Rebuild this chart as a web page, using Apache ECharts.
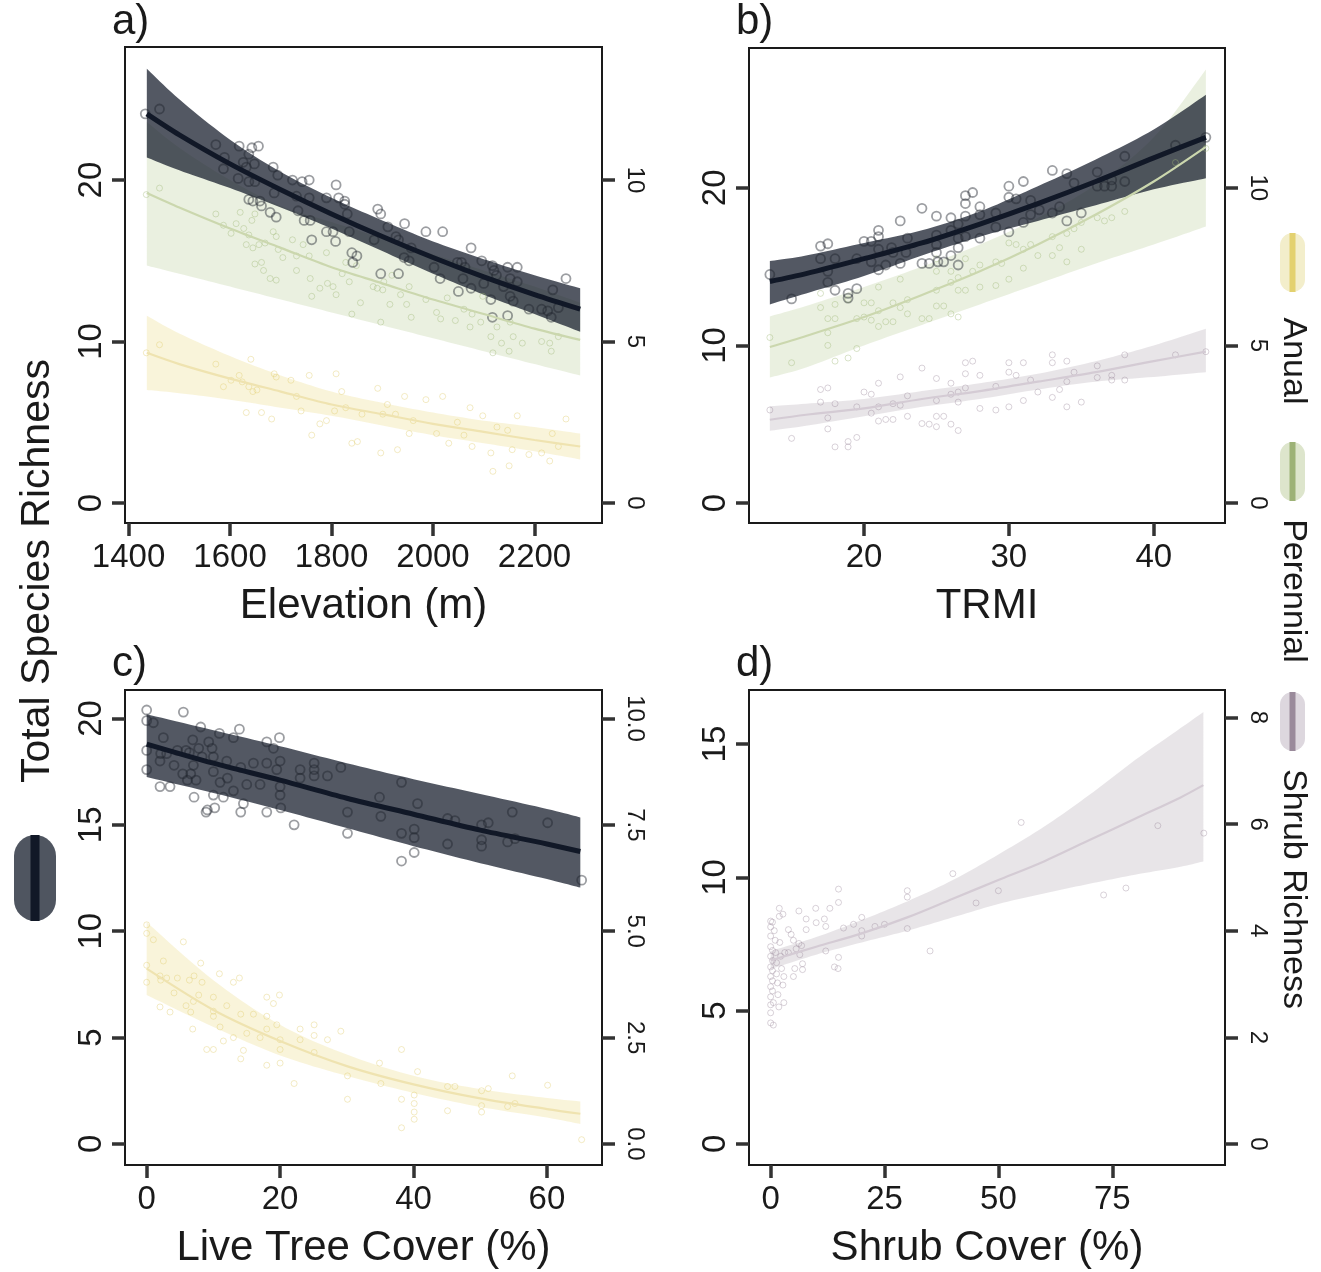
<!DOCTYPE html>
<html><head><meta charset="utf-8">
<script src="https://cdn.jsdelivr.net/npm/echarts@6/dist/echarts.min.js"></script>
<style>html,body{margin:0;padding:0;background:#fff}#c{width:1321px;height:1272px}</style>
</head><body><div id="c"></div>
<script>
// ---------- Panel a: Elevation ----------
const elevTicks = [1400, 1600, 1800, 2000, 2200];
const elevFitX = [1436, 1500, 1600, 1700, 1800, 1900, 2000, 2100, 2200, 2290];
const elevTotalFit = [24.1, 22.8, 21.0, 19.4, 17.9, 16.5, 15.2, 14.0, 12.9, 12.0];
const elevTotalHi  = [26.9, 25.0, 22.5, 20.5, 18.9, 17.5, 16.2, 15.1, 14.1, 13.3];
const elevTotalLo  = [21.4, 20.6, 19.5, 18.3, 17.0, 15.6, 14.2, 12.9, 11.7, 10.6];
const elevPerFit = [9.6, 9.15, 8.5, 7.9, 7.3, 6.8, 6.3, 5.85, 5.4, 5.05];
const elevPerHi  = [11.8, 11.0, 10.0, 9.2, 8.7, 8.2, 7.7, 7.2, 6.7, 6.2];
const elevPerLo  = [7.35, 7.1, 6.7, 6.3, 5.9, 5.5, 5.1, 4.7, 4.3, 3.95];
const elevAnnFit = [4.65, 4.3, 3.85, 3.45, 3.05, 2.75, 2.45, 2.2, 1.95, 1.75];
const elevAnnHi  = [5.8, 5.25, 4.55, 3.95, 3.45, 3.1, 2.8, 2.55, 2.35, 2.15];
const elevAnnLo  = [3.5, 3.4, 3.2, 2.95, 2.7, 2.4, 2.1, 1.85, 1.6, 1.35];
const elevTotalPts = [[1433,24.1],[1461,24.4],[1572,22.2],[1589,21.4],[1587,20.7],[1618,22.1],[1626,21.1],[1637,21.6],[1643,22.0],[1656,22.1],[1616,20.1],[1632,20.8],[1648,21.0],[1637,19.9],[1649,19.9],[1637,18.8],[1645,18.7],[1659,18.7],[1662,18.4],[1679,18.0],[1687,19.2],[1691,17.7],[1685,20.8],[1694,20.3],[1723,20.0],[1742,19.9],[1756,20.0],[1731,19.0],[1756,18.9],[1734,18.1],[1746,17.5],[1758,17.5],[1761,16.3],[1790,16.8],[1803,16.8],[1809,19.7],[1790,18.9],[1814,18.9],[1826,18.7],[1826,18.5],[1831,17.9],[1808,16.2],[1835,16.8],[1840,15.5],[1842,14.9],[1850,15.3],[1884,16.3],[1891,18.2],[1897,17.9],[1897,14.2],[1911,17.1],[1927,16.5],[1932,16.3],[1944,17.3],[1943,15.2],[1953,15.0],[1957,15.8],[1932,14.2],[1986,16.8],[2019,16.8],[2002,14.6],[2014,13.9],[2048,14.9],[2056,14.9],[2063,14.6],[2059,13.9],[2050,13.1],[2075,15.8],[2075,13.3],[2096,15.0],[2100,13.6],[2117,14.7],[2120,14.4],[2125,14.1],[2114,12.6],[2117,11.5],[2139,13.4],[2147,14.6],[2152,13.9],[2152,12.8],[2147,11.6],[2166,14.6],[2166,13.7],[2158,12.5],[2189,12.0],[2214,12.0],[2226,11.9],[2233,11.5],[2236,13.2],[2247,12.1],[2262,13.9]];
const elevPerPts = [[1435,9.55],[1461,9.75],[1572,8.95],[1587,8.6],[1602,8.35],[1612,8.65],[1620,9.0],[1627,8.5],[1637,8.3],[1643,8.75],[1649,8.95],[1632,8.0],[1645,7.9],[1657,8.0],[1669,8.05],[1649,7.4],[1662,7.45],[1666,7.2],[1685,8.4],[1691,8.25],[1695,7.85],[1704,7.6],[1679,6.95],[1691,6.9],[1723,8.15],[1731,7.65],[1731,7.2],[1744,8.0],[1756,7.65],[1758,6.95],[1761,6.4],[1777,6.65],[1790,7.75],[1792,6.8],[1803,6.7],[1809,6.45],[1821,7.1],[1828,7.45],[1835,6.85],[1840,5.85],[1849,7.35],[1857,6.2],[1882,6.7],[1890,6.65],[1897,5.6],[1901,6.6],[1903,6.85],[1915,6.15],[1919,7.05],[1936,6.45],[1948,6.15],[1953,6.7],[1957,5.75],[1986,6.3],[2007,5.9],[2015,5.7],[2028,6.35],[2044,5.65],[2061,6.0],[2073,5.45],[2077,5.85],[2094,5.6],[2098,6.4],[2114,5.15],[2118,4.65],[2126,5.45],[2135,4.95],[2150,4.7],[2152,5.6],[2158,5.15],[2176,4.95],[2214,5.0],[2230,4.95],[2233,4.7],[2247,5.15]];
const elevAnnPts = [[1435,4.65],[1461,4.9],[1572,4.3],[1587,3.6],[1602,3.8],[1618,3.95],[1624,3.75],[1637,3.6],[1645,3.45],[1641,4.45],[1653,3.5],[1632,2.8],[1662,2.8],[1682,2.6],[1687,4.0],[1691,3.9],[1720,3.8],[1731,3.3],[1740,2.85],[1756,3.95],[1761,2.1],[1777,2.45],[1790,2.55],[1806,2.85],[1809,4.0],[1820,3.45],[1828,2.95],[1840,1.85],[1851,1.9],[1860,2.75],[1891,3.55],[1897,1.55],[1901,2.75],[1910,3.05],[1926,2.75],[1930,1.65],[1944,3.3],[1953,2.15],[1961,2.55],[1986,3.2],[2007,2.15],[2019,3.3],[2031,1.85],[2048,2.5],[2061,2.1],[2073,2.95],[2077,1.75],[2098,2.7],[2114,1.55],[2118,0.98],[2126,2.35],[2147,2.25],[2150,1.15],[2156,1.65],[2166,2.7],[2189,1.5],[2214,1.55],[2230,1.3],[2235,2.15],[2247,1.75],[2262,2.6]];

// ---------- Panel b: TRMI ----------
const trmiTicks = [20, 30, 40];
const trmiFitX = [13.5, 16, 20, 24, 28, 32, 36, 40, 43.6];
const trmiTotalFit = [14.05, 14.55, 15.5, 16.5, 17.7, 19.0, 20.4, 21.9, 23.2];
const trmiTotalHi  = [15.35, 15.7, 16.5, 17.3, 18.5, 20.1, 21.8, 23.7, 25.9];
const trmiTotalLo  = [12.6, 13.3, 14.4, 15.7, 16.9, 17.9, 18.9, 19.9, 20.6];
const trmiPerFit = [4.95, 5.3, 5.9, 6.6, 7.35, 8.2, 9.15, 10.2, 11.3];
const trmiPerHi  = [5.92, 6.25, 6.85, 7.5, 8.2, 9.05, 10.1, 11.6, 13.75];
const trmiPerLo  = [3.98, 4.3, 5.0, 5.65, 6.3, 6.95, 7.6, 8.2, 8.77];
const trmiShrFit = [2.64, 2.8, 3.0, 3.3, 3.55, 3.85, 4.15, 4.5, 4.8];
const trmiShrHi  = [3.07, 3.15, 3.3, 3.55, 3.8, 4.1, 4.5, 5.0, 5.53];
const trmiShrLo  = [2.29, 2.45, 2.75, 3.05, 3.3, 3.6, 3.85, 4.0, 4.15];
const trmiTotalPts = [[13.5,14.5],[15.0,12.95],[17.0,16.3],[17.5,16.45],[17.0,15.5],[17.5,14.7],[17.5,14.0],[18.0,15.5],[18.0,13.5],[18.9,13.3],[18.9,13.0],[19.5,13.6],[19.5,15.5],[20.0,16.6],[20.5,16.6],[20.5,15.3],[21.0,16.1],[21.0,17.3],[21.0,16.9],[21.0,14.8],[21.5,15.1],[21.9,16.2],[22.0,15.9],[22.5,17.9],[22.5,15.2],[22.9,15.9],[23.0,16.8],[24.0,18.7],[24.0,15.2],[24.5,15.2],[25.0,18.2],[25.0,17.0],[25.0,16.4],[25.0,15.9],[25.1,15.3],[25.5,15.3],[26.0,18.1],[26.0,17.3],[26.0,15.7],[26.5,15.1],[26.5,17.7],[26.5,16.8],[26.5,16.2],[27.0,19.5],[27.5,19.7],[27.0,19.0],[27.0,18.2],[27.0,16.9],[28.0,18.8],[28.0,18.3],[28.0,16.8],[29.1,18.4],[29.1,17.5],[30.0,20.1],[30.0,19.4],[30.0,17.2],[30.5,19.3],[31.0,20.4],[31.0,17.8],[31.5,19.2],[31.5,18.3],[32.1,18.6],[33.0,21.1],[33.0,18.4],[33.5,18.8],[34.0,20.9],[34.0,17.9],[34.5,20.3],[35.0,18.4],[36.1,21.0],[36.1,20.1],[36.6,20.1],[37.1,20.5],[37.1,20.1],[38.0,22.0],[38.0,20.4],[41.5,22.7],[43.6,23.2]];
const trmiPerPts = [[13.5,5.25],[15.0,4.45],[17.0,6.65],[17.0,6.2],[17.5,5.85],[17.5,5.4],[17.5,5.0],[18.0,6.3],[18.0,5.85],[18.0,4.5],[18.9,6.45],[18.9,4.6],[19.5,4.9],[19.5,5.85],[20.0,6.35],[20.0,5.9],[20.5,6.35],[20.5,5.8],[21.0,6.85],[21.0,6.1],[21.0,5.6],[21.5,5.75],[22.0,6.35],[22.0,5.75],[22.5,7.1],[22.5,6.2],[23.0,6.45],[23.0,6.0],[24.0,5.85],[24.5,5.85],[25.0,7.35],[25.0,6.75],[25.0,7.75],[25.0,6.25],[25.5,6.25],[26.0,7.35],[26.0,7.0],[26.0,6.0],[26.5,7.15],[26.5,6.75],[26.5,5.9],[27.0,7.75],[27.0,6.75],[27.5,7.35],[28.0,7.55],[28.0,6.85],[29.1,7.65],[29.1,6.9],[29.5,7.6],[30.0,8.25],[30.0,7.1],[30.5,8.2],[31.0,8.05],[31.0,7.45],[31.5,8.2],[32.0,7.85],[33.0,8.45],[33.0,7.85],[33.5,8.1],[34.0,8.55],[34.0,7.65],[34.5,8.7],[35.0,8.9],[35.0,8.05],[36.1,9.05],[36.6,8.95],[37.1,9.05],[38.0,9.25],[41.5,10.8],[43.6,11.25]];
const trmiShrPts = [[13.5,2.95],[15.0,2.05],[17.0,3.6],[17.5,3.65],[17.0,3.2],[17.5,2.7],[17.5,2.35],[18.0,3.15],[18.0,1.78],[18.9,1.95],[18.9,1.78],[19.5,2.08],[19.5,3.05],[20.0,3.52],[20.5,3.45],[20.5,2.85],[21.0,3.8],[21.0,3.05],[21.0,2.6],[21.5,2.65],[22.0,3.15],[22.0,2.65],[22.5,4.0],[22.5,3.1],[23.0,3.4],[23.0,2.75],[24.0,4.28],[24.0,2.52],[24.5,2.5],[25.0,3.95],[25.0,3.25],[25.0,2.75],[25.0,2.42],[25.5,2.75],[26.0,3.8],[26.0,3.45],[26.0,2.5],[26.5,3.52],[26.5,3.2],[26.5,2.3],[27.0,4.45],[27.5,4.5],[27.0,4.1],[27.0,3.65],[28.0,4.05],[28.0,3.0],[29.1,3.7],[29.1,2.95],[30.0,4.45],[30.0,4.15],[30.0,3.05],[30.5,4.05],[31.0,4.45],[31.0,3.25],[31.5,3.9],[32.0,3.52],[33.0,4.7],[33.0,4.45],[33.0,3.35],[33.5,3.6],[34.0,4.5],[34.0,3.85],[34.5,4.15],[34.0,3.05],[35.0,3.2],[36.1,4.35],[36.1,3.98],[37.1,4.05],[37.1,3.9],[38.0,4.7],[38.0,3.9],[41.5,4.7],[43.6,4.8]];

// ---------- Panel c: Live Tree Cover ----------
const treeTicks = [0, 20, 40, 60];
const treeFitX = [0, 10, 20, 30, 40, 50, 60, 65];
const treeTotalFit = [18.8, 17.9, 17.1, 16.25, 15.5, 14.75, 14.1, 13.75];
const treeTotalHi  = [20.2, 19.45, 18.7, 17.9, 17.15, 16.45, 15.75, 15.35];
const treeTotalLo  = [17.25, 16.5, 15.7, 14.85, 14.0, 13.2, 12.45, 12.05];
const treeAnnFit = [4.12, 3.15, 2.42, 1.83, 1.4, 1.07, 0.82, 0.71];
const treeAnnHi  = [5.21, 3.85, 2.8, 2.1, 1.6, 1.29, 1.08, 1.0];
const treeAnnLo  = [3.5, 2.75, 2.08, 1.6, 1.2, 0.87, 0.62, 0.47];
const treeTotalPts = [[0,20.4],[0,19.9],[0,18.5],[0,17.6],[1.0,19.8],[2.0,18.0],[2.1,18.35],[2.5,19.1],[2.0,16.8],[3.5,16.8],[3.0,18.35],[4.1,17.8],[4.6,18.5],[5.5,20.3],[5.4,17.4],[5.9,18.5],[6.1,17.1],[6.4,18.4],[6.6,17.4],[6.9,19.0],[7.0,17.8],[7.1,16.3],[7.4,17.1],[7.8,18.6],[8.1,19.6],[8.3,18.2],[8.9,15.6],[9.1,15.7],[9.3,18.9],[9.8,18.6],[10.0,18.2],[10.0,17.5],[10.0,16.4],[10.2,15.8],[10.9,19.3],[11.0,17.0],[11.5,16.3],[12.0,18.0],[12.1,17.2],[13.0,19.1],[13.0,16.6],[13.9,19.5],[14.1,17.7],[14.1,15.6],[14.5,16.0],[15.0,16.9],[16.0,17.9],[17.0,16.9],[18.0,18.9],[18.0,17.9],[18.0,15.6],[19.0,18.6],[19.5,17.6],[19.9,19.1],[20.0,18.0],[20.0,16.8],[20.0,16.4],[20.1,15.8],[22.1,15.0],[23.0,17.6],[23.0,17.2],[25.1,17.9],[25.1,17.6],[25.1,17.3],[27.1,17.3],[29.1,17.7],[30.1,15.6],[30.1,14.6],[34.9,16.3],[35.1,15.4],[38.2,17.0],[38.2,14.6],[38.2,13.3],[40.1,14.8],[40.1,14.4],[40.1,13.7],[40.6,16.0],[45.1,15.3],[45.1,14.1],[46.2,15.2],[50.2,15.0],[50.2,14.3],[50.2,14.0],[51.2,15.1],[54.1,14.2],[54.8,15.6],[55.2,14.35],[60.1,15.1],[65.2,12.4]];
const treeAnnPts = [[0,5.15],[0,4.95],[0,4.2],[0,3.8],[1.0,4.8],[2.0,3.95],[2.1,3.85],[2.5,4.3],[2.0,3.22],[3.5,3.1],[3.0,3.9],[4.1,3.55],[4.6,3.9],[5.5,4.75],[5.9,3.25],[6.4,3.85],[6.6,3.1],[6.9,2.7],[7.0,3.35],[7.1,3.95],[7.8,3.5],[8.1,4.25],[8.3,3.8],[9.0,2.22],[10.0,2.22],[10.0,3.12],[10.0,3.45],[10.0,3.0],[10.9,4.0],[11.0,2.75],[11.5,2.42],[12.0,3.25],[13.0,3.8],[13.0,2.5],[13.9,3.9],[14.1,3.05],[14.1,2.0],[14.5,2.2],[15.0,2.6],[16.0,3.05],[17.0,2.5],[18.0,3.45],[18.0,3.0],[18.0,1.85],[18.0,2.7],[19.0,3.3],[19.5,2.8],[19.9,3.5],[20.0,2.45],[20.0,2.22],[20.0,1.9],[22.1,1.42],[23.0,2.7],[23.0,2.45],[25.1,2.8],[25.1,2.55],[25.1,2.15],[27.1,2.45],[29.1,2.65],[30.1,1.6],[30.1,1.05],[34.9,1.9],[35.1,1.42],[38.2,2.22],[38.2,1.05],[38.2,0.38],[40.1,1.15],[40.1,0.95],[40.1,0.75],[40.1,0.58],[40.6,1.7],[45.1,1.35],[45.1,0.78],[46.2,1.35],[50.2,1.25],[50.2,0.9],[50.2,0.75],[51.2,1.3],[54.1,0.88],[54.8,1.6],[55.2,0.95],[60.1,1.38],[65.2,0.1]];

// ---------- Panel d: Shrub Cover ----------
const shrubTicks = [0, 25, 50, 75];
const shrubFitX = [0, 10, 20, 30, 40, 50, 60, 70, 80, 90, 95];
const shrubShrFit = [3.44, 3.7, 3.95, 4.25, 4.6, 4.95, 5.3, 5.7, 6.1, 6.5, 6.73];
const shrubShrHi  = [3.62, 3.88, 4.2, 4.55, 4.95, 5.43, 5.95, 6.55, 7.2, 7.8, 8.1];
const shrubShrLo  = [3.28, 3.55, 3.78, 4.0, 4.25, 4.5, 4.7, 4.88, 5.05, 5.2, 5.3];
const shrubShrPts = [[0,4.18],[0,4.07],[0,3.9],[0,3.7],[0,3.52],[0,3.32],[0,3.14],[0,2.95],[0,2.76],[0,2.61],[0,2.46],[0,2.27],[0.4,4.16],[0.4,3.63],[0.4,3.44],[0.4,3.25],[0.4,3.06],[0.4,2.87],[0.6,2.65],[0.6,2.23],[0.8,4.0],[1.0,3.82],[1.1,3.59],[1.3,3.4],[1.3,3.19],[1.5,3.02],[1.6,2.8],[1.8,2.57],[1.9,4.42],[1.9,4.27],[2.0,3.78],[2.2,3.52],[2.4,3.29],[2.7,4.31],[2.7,2.98],[2.9,3.14],[2.9,2.65],[3.1,3.59],[3.9,4.02],[3.9,3.59],[4.5,3.93],[5.0,3.82],[5.0,3.14],[5.3,3.29],[5.6,3.66],[6.2,4.37],[6.2,3.76],[6.4,3.55],[6.8,3.72],[7.0,3.27],[7.0,3.38],[7.8,4.22],[7.8,4.02],[9.9,4.42],[10.0,4.15],[11.8,4.22],[12.1,4.08],[12.1,3.62],[13.0,4.42],[14.0,3.32],[14.8,3.29],[14.9,4.78],[14.9,4.53],[14.9,3.5],[16.0,4.05],[18.2,4.12],[20.0,4.25],[20.0,4.0],[20.0,3.9],[22.9,4.08],[25.0,4.12],[30.0,4.75],[30.0,4.63],[30.0,4.04],[35.0,3.62],[40.0,5.07],[45.1,4.52],[50.0,4.75],[55.0,6.03],[73.1,4.67],[78.0,4.8],[85.0,5.97],[95.1,5.83]];

// left (total) and right (group) axis ticks
const leftTicksA = [0, 10, 20], rightTicksA = [0, 5, 10];
const leftTicksB = [0, 10, 20], rightTicksB = [0, 5, 10];
const leftTicksC = [0, 5, 10, 15, 20], rightTicksC = [0, 2.5, 5, 7.5, 10];
const leftTicksD = [0, 5, 10, 15], rightTicksD = [0, 2, 4, 6, 8];

const axisTitles = ['Elevation (m)', 'TRMI', 'Live Tree Cover (%)', 'Shrub Cover (%)'];
const panelLabels = ['a)', 'b)', 'c)', 'd)'];
const legendNames = ['Anual', 'Perennial', 'Shrub Richness'];
const yTitle = 'Total Species Richness';

// ---------- styling ----------
const FONT = '"Liberation Sans", Arial, sans-serif';
const TXT = '#1a1a1a';
const C = {
  total: {band: '#111827', bandOp: 0.72, line: '#111827', pt: 'rgba(30,34,44,0.55)'},
  per:   {band: '#b5c98e', bandOp: 0.28, line: '#cbd7ae', pt: 'rgba(160,185,120,0.5)'},
  ann:   {band: '#e8d77a', bandOp: 0.28, line: '#efe3b0', pt: 'rgba(225,205,110,0.5)'},
  shr:   {band: '#b2a8b4', bandOp: 0.30, line: '#d4cbd4', pt: 'rgba(150,130,150,0.45)'}
};

const grids = [
  {left: 125, top: 47, width: 477, height: 476},
  {left: 749, top: 48, width: 476, height: 475},
  {left: 125, top: 690, width: 477, height: 475},
  {left: 749, top: 690, width: 476, height: 475}
];
const xRanges = [[1393, 2333], [12.06, 44.92], [-3.25, 68.25], [-4.75, 99.75]];
const yRanges = [[-1.24, 28.24], [-1.27, 28.87], [-0.99, 21.34], [-0.79, 17.03]];
const xTicks = [elevTicks, trmiTicks, treeTicks, shrubTicks];
const lTicks = [leftTicksA, leftTicksB, leftTicksC, leftTicksD];
const rTicks = [rightTicksA, rightTicksB, rightTicksC, rightTicksD];

const tickStyle = {color: '#333', width: 3.5};

const xAxes = grids.map((g, i) => ({
  type: 'value', gridIndex: i, min: xRanges[i][0], max: xRanges[i][1],
  axisLine: {show: false, onZero: false},
  splitLine: {show: false},
  axisTick: {show: true, customValues: xTicks[i], length: 13, lineStyle: tickStyle},
  axisLabel: {customValues: xTicks[i], fontSize: 33, color: TXT, margin: 18, fontFamily: FONT,
    formatter: v => String(v)},
  name: axisTitles[i], nameLocation: 'middle', nameGap: 62,
  nameTextStyle: {fontSize: 42, color: TXT, fontFamily: FONT}
}));

const yAxes = [];
grids.forEach((g, i) => {
  yAxes.push({
    type: 'value', gridIndex: i, position: 'left', min: yRanges[i][0], max: yRanges[i][1],
    axisLine: {show: false, onZero: false}, splitLine: {show: false},
    axisTick: {show: true, customValues: lTicks[i], length: 13, lineStyle: tickStyle},
    axisLabel: {customValues: lTicks[i], rotate: 90, fontSize: 33, color: TXT, margin: 17, fontFamily: FONT,
      formatter: v => String(v)}
  });
  yAxes.push({
    type: 'value', gridIndex: i, position: 'right', min: yRanges[i][0] / 2, max: yRanges[i][1] / 2,
    axisLine: {show: false, onZero: false}, splitLine: {show: false},
    axisTick: {show: true, customValues: rTicks[i], length: 13, lineStyle: tickStyle},
    axisLabel: {customValues: rTicks[i], rotate: -90, fontSize: 24, color: TXT, margin: 21, fontFamily: FONT,
      formatter: i === 2 ? (v => Number(v).toFixed(1)) : (v => String(v))}
  });
});

// smooth a pixel-space edge (Catmull-Rom) for drawing only
function smoothEdge(P) {
  const out = [];
  const n = P.length, steps = 10;
  for (let i = 0; i < n - 1; i++) {
    const p0 = P[Math.max(i - 1, 0)], p1 = P[i], p2 = P[i + 1], p3 = P[Math.min(i + 2, n - 1)];
    for (let s = 0; s < steps; s++) {
      const t = s / steps, t2 = t * t, t3 = t2 * t;
      out.push([0, 1].map(d => 0.5 * (2 * p1[d] + (-p0[d] + p2[d]) * t +
        (2 * p0[d] - 5 * p1[d] + 4 * p2[d] - p3[d]) * t2 + (-p0[d] + 3 * p1[d] - 3 * p2[d] + p3[d]) * t3)));
    }
  }
  out.push(P[n - 1]);
  return out;
}

function band(xs, lo, hi, g, right, col) {
  const poly = xs.map((x, k) => [x, hi[k]]).concat(xs.map((x, k) => [x, lo[k]]).reverse());
  return {
    type: 'custom', coordinateSystem: 'cartesian2d', xAxisIndex: g, yAxisIndex: g * 2 + (right ? 1 : 0),
    silent: true, data: poly,
    renderItem: function (params, api) {
      if (params.dataIndex !== 0) return null;
      const n = xs.length;
      const up = smoothEdge(poly.slice(0, n).map(p => api.coord(p)));
      const dn = smoothEdge(poly.slice(n).map(p => api.coord(p)));
      return {type: 'polygon', shape: {points: up.concat(dn)}, style: {fill: col.band, opacity: col.bandOp}};
    }
  };
}
function fit(xs, ys, g, right, col, w) {
  return {type: 'line', xAxisIndex: g, yAxisIndex: g * 2 + (right ? 1 : 0), symbol: 'none', smooth: 0.3,
    silent: true, lineStyle: {color: col.line, width: w}, data: xs.map((x, k) => [x, ys[k]])};
}
function pts(data, g, right, col, size, bw) {
  return {type: 'scatter', xAxisIndex: g, yAxisIndex: g * 2 + (right ? 1 : 0), symbol: 'circle',
    symbolSize: size, silent: true,
    itemStyle: {color: 'rgba(0,0,0,0)', borderColor: col.pt, borderWidth: bw}, data: data};
}

const series = [
  // panel a
  band(elevFitX, elevPerLo, elevPerHi, 0, true, C.per),
  band(elevFitX, elevAnnLo, elevAnnHi, 0, true, C.ann),
  fit(elevFitX, elevPerFit, 0, true, C.per, 2.2),
  fit(elevFitX, elevAnnFit, 0, true, C.ann, 2.2),
  pts(elevPerPts, 0, true, C.per, 6, 1),
  pts(elevAnnPts, 0, true, C.ann, 6, 1),
  band(elevFitX, elevTotalLo, elevTotalHi, 0, false, C.total),
  fit(elevFitX, elevTotalFit, 0, false, C.total, 5),
  pts(elevTotalPts, 0, false, C.total, 9, 1.8),
  // panel b
  band(trmiFitX, trmiPerLo, trmiPerHi, 1, true, C.per),
  band(trmiFitX, trmiShrLo, trmiShrHi, 1, true, C.shr),
  fit(trmiFitX, trmiPerFit, 1, true, C.per, 2.2),
  fit(trmiFitX, trmiShrFit, 1, true, C.shr, 2.2),
  pts(trmiPerPts, 1, true, C.per, 6, 1),
  pts(trmiShrPts, 1, true, C.shr, 6, 1),
  band(trmiFitX, trmiTotalLo, trmiTotalHi, 1, false, C.total),
  fit(trmiFitX, trmiTotalFit, 1, false, C.total, 5),
  pts(trmiTotalPts, 1, false, C.total, 9, 1.8),
  // panel c
  band(treeFitX, treeAnnLo, treeAnnHi, 2, true, C.ann),
  fit(treeFitX, treeAnnFit, 2, true, C.ann, 2.2),
  pts(treeAnnPts, 2, true, C.ann, 6, 1),
  band(treeFitX, treeTotalLo, treeTotalHi, 2, false, C.total),
  fit(treeFitX, treeTotalFit, 2, false, C.total, 5),
  pts(treeTotalPts, 2, false, C.total, 9, 1.8),
  // panel d
  band(shrubFitX, shrubShrLo, shrubShrHi, 3, true, C.shr),
  fit(shrubFitX, shrubShrFit, 3, true, C.shr, 2.2),
  pts(shrubShrPts, 3, true, C.shr, 6, 1)
];

function txt(text, x, y, size, rot, align) {
  return {type: 'text', x: x, y: y, rotation: rot || 0, silent: true,
    style: {text: text, fontSize: size, fontFamily: FONT, fill: TXT,
      align: align || 'center', verticalAlign: 'middle', textAlign: align || 'center', textVerticalAlign: 'middle'}};
}
function pill(x, y, w, h, fillCol, lineCol, lw) {
  return [
    {type: 'rect', silent: true, shape: {x: x, y: y, width: w, height: h, r: w / 2}, style: {fill: fillCol}},
    {type: 'rect', silent: true, shape: {x: x + (w - lw) / 2, y: y, width: lw, height: h}, style: {fill: lineCol}}
  ];
}

const graphic = [
  txt(panelLabels[0], 112, 22, 42, 0, 'left'),
  txt(panelLabels[1], 736, 22, 42, 0, 'left'),
  txt(panelLabels[2], 112, 664, 42, 0, 'left'),
  txt(panelLabels[3], 736, 664, 42, 0, 'left'),
  txt(yTitle, 38, 571, 41, Math.PI / 2),
  ...pill(14, 835, 42, 86, '#4f5560', '#111827', 9),
  ...pill(1280, 233, 25, 59, '#f3eecb', '#e3d16f', 6),
  txt(legendNames[0], 1293, 361, 34, -Math.PI / 2),
  ...pill(1280, 442, 25, 59, '#dde5cc', '#9db276', 6),
  txt(legendNames[1], 1293, 591, 34, -Math.PI / 2),
  ...pill(1280, 692, 25, 59, '#ddd7de', '#9a8a9b', 6),
  txt(legendNames[2], 1293, 889, 34, -Math.PI / 2)
];

const chart = echarts.init(document.getElementById('c'), null, {renderer: 'canvas'});
chart.setOption({
  animation: false,
  backgroundColor: '#ffffff',
  textStyle: {fontFamily: FONT},
  grid: grids.map(g => Object.assign({show: true, borderColor: '#1a1a1a', borderWidth: 2, backgroundColor: 'rgba(0,0,0,0)'}, g)),
  xAxis: xAxes,
  yAxis: yAxes,
  series: series,
  graphic: graphic
});
</script></body></html>
